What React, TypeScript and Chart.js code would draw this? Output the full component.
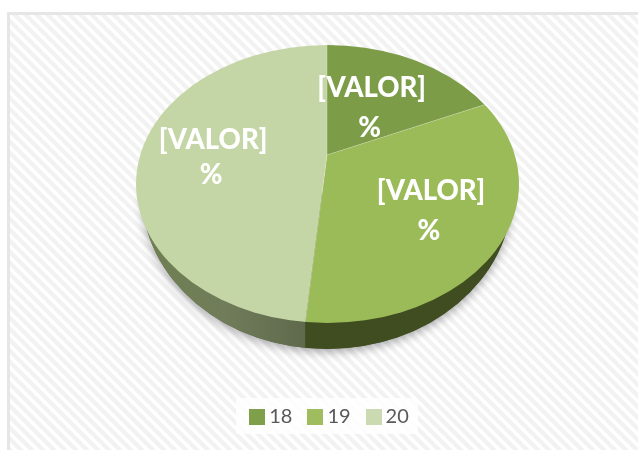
import React, { useEffect, useRef } from "react";
import { Chart, registerables } from "chart.js";

Chart.register(...registerables);

const categories = ["18", "19", "20"];
const sliceValues = [18.4, 33.1, 48.5];
const sliceColors = ["#7c9c47", "#9bbb59", "#c4d6a5"];
const swatchColors = ["#7f9f4a", "#9fbd5e", "#cbdab0"];
const valueLabel = "[VALOR]";
const percentLabel = "%";

// top face of the tilted pie, and the apex where the slices meet (perspective)
const FACE = { cx: 327.5, cy: 184, rx: 191.5, ry: 139 };
const APEX = { x: 327, y: 155 };
const TILT = FACE.ry / FACE.rx;
const WALL = { cx: 327, cy: 194, rx: 185, ry: 155 };
const LABEL_REACH = [80, 127, 115];
const LABEL_DROP = [2, 2, 7];
const LINE_GAP = [40, 40, 35];

function hatch(ctx: CanvasRenderingContext2D) {
  const p = 11;
  const tile = document.createElement("canvas");
  tile.width = p;
  tile.height = p;
  const t = tile.getContext("2d")!;
  t.fillStyle = "#ffffff";
  t.fillRect(0, 0, p, p);
  t.strokeStyle = "#f2f2f2";
  t.lineWidth = 4.2;
  for (const off of [-p, 0, p]) {
    t.beginPath();
    t.moveTo(off - 2, -2);
    t.lineTo(off + p + 2, p + 2);
    t.stroke();
  }
  return ctx.createPattern(tile, "repeat")!;
}

function swatch(color: string) {
  const c = document.createElement("canvas");
  c.width = 16;
  c.height = 16;
  const x = c.getContext("2d")!;
  x.fillStyle = color;
  x.fillRect(0, 0, 16, 16);
  return c;
}

// where a slice edge at this chart angle meets the top-face ellipse
function rayToFace(angle: number) {
  const dx = Math.cos(angle);
  const dy = Math.sin(angle) * TILT;
  const ox = APEX.x - FACE.cx;
  const oy = APEX.y - FACE.cy;
  const a = (dx * dx) / FACE.rx ** 2 + (dy * dy) / FACE.ry ** 2;
  const b = 2 * ((ox * dx) / FACE.rx ** 2 + (oy * dy) / FACE.ry ** 2);
  const c = (ox * ox) / FACE.rx ** 2 + (oy * oy) / FACE.ry ** 2 - 1;
  const t = (-b + Math.sqrt(b * b - 4 * a * c)) / (2 * a);
  return { x: APEX.x + dx * t, y: APEX.y + dy * t };
}

const backdrop = {
  id: "backdrop",
  beforeDraw(chart: any) {
    const { ctx, width, height } = chart;
    ctx.save();
    ctx.fillStyle = "#ffffff";
    ctx.fillRect(0, 0, width, height);
    ctx.fillStyle = hatch(ctx);
    ctx.fillRect(10, 15, width - 10, height - 15);
    ctx.fillStyle = "#e6e6e6";
    ctx.fillRect(7, 12, width - 7, 3);
    ctx.fillRect(7, 12, 3, height - 12);
    ctx.fillStyle = "rgba(255,255,255,0.8)";
    ctx.fillRect(236, 398, 182, 36);
    ctx.restore();
  },
};

const tiltedPie = {
  id: "tiltedPie",
  beforeDatasetsDraw(chart: any) {
    const { ctx } = chart;
    const arcs = chart.getDatasetMeta(0).data;
    const seam = rayToFace(arcs[1].endAngle);

    // front wall of the pie
    const wallPath = () => {
      ctx.beginPath();
      ctx.ellipse(WALL.cx, WALL.cy, WALL.rx, WALL.ry, 0, 0, Math.PI);
      ctx.closePath();
    };
    ctx.save();
    ctx.shadowColor = "rgba(40,40,50,0.4)";
    ctx.shadowBlur = 10;
    ctx.shadowOffsetY = 3;
    ctx.fillStyle = "#55633a";
    wallPath();
    ctx.fill();
    ctx.restore();

    ctx.save();
    wallPath();
    ctx.clip();
    const g = ctx.createLinearGradient(WALL.cx - WALL.rx, 0, seam.x, 0);
    g.addColorStop(0, "#708050");
    g.addColorStop(0.5, "#707c5a");
    g.addColorStop(1, "#5e6a4b");
    ctx.fillStyle = g;
    ctx.fillRect(WALL.cx - WALL.rx, WALL.cy, seam.x - (WALL.cx - WALL.rx), WALL.ry + 1);
    ctx.fillStyle = "#3f4d20";
    ctx.fillRect(seam.x, WALL.cy, WALL.cx + WALL.rx - seam.x, WALL.ry + 1);
    ctx.restore();

    // top face: the library's arcs, squashed and cut to the ellipse
    ctx.save();
    ctx.beginPath();
    ctx.ellipse(FACE.cx, FACE.cy, FACE.rx, FACE.ry, 0, 0, Math.PI * 2);
    ctx.clip();
    ctx.translate(APEX.x, APEX.y);
    ctx.scale(1, TILT);
    ctx.translate(-arcs[0].x, -arcs[0].y);
  },
  afterDatasetsDraw(chart: any) {
    const { ctx } = chart;
    ctx.restore();
    const arcs = chart.getDatasetMeta(0).data;
    ctx.save();
    ctx.fillStyle = "#ffffff";
    ctx.font = "900 27.5px Lato";
    ctx.textAlign = "center";
    ctx.textBaseline = "middle";
    arcs.forEach((arc: any, i: number) => {
      const mid = (arc.startAngle + arc.endAngle) / 2;
      const x = APEX.x + Math.cos(mid) * LABEL_REACH[i];
      const y = APEX.y + Math.sin(mid) * LABEL_REACH[i] * TILT + LABEL_DROP[i];
      ctx.fillText(valueLabel, x + 1, y - LINE_GAP[i] / 2);
      ctx.fillText(percentLabel, x - 1, y + LINE_GAP[i] / 2);
    });
    ctx.restore();
  },
};

export default function App() {
  const ref = useRef<HTMLCanvasElement>(null);
  useEffect(() => {
    const chart = new Chart(ref.current!, {
      type: "pie",
      data: {
        labels: categories,
        datasets: [
          {
            data: sliceValues,
            backgroundColor: sliceColors,
            borderColor: "rgba(255,255,255,0.2)",
            borderWidth: 1,
            clip: false,
          } as any,
        ],
      },
      options: {
        responsive: false,
        animation: false,
        radius: "500%",
        layout: { padding: { left: 26, right: 0, top: 0, bottom: 13 } },
        plugins: {
          tooltip: { enabled: false },
          legend: {
            position: "bottom",
            labels: {
              color: "#595959",
              font: { family: "Lato", size: 20 },
              usePointStyle: true,
              pointStyleWidth: 4,
              boxHeight: 16,
              padding: 21,
              generateLabels: () =>
                categories.map((text, i) => ({
                  text,
                  fontColor: "#595959",
                  fillStyle: swatchColors[i],
                  strokeStyle: swatchColors[i],
                  lineWidth: 0,
                  pointStyle: swatch(swatchColors[i]),
                  hidden: false,
                  index: i,
                })),
            },
          },
        },
      } as any,
      plugins: [backdrop, tiltedPie],
    });
    return () => chart.destroy();
  }, []);
  return (
    <div style={{ position: "absolute", left: 0, top: 0, width: 638, height: 450 }}>
      <canvas ref={ref} width={638} height={450} style={{ display: "block", filter: "blur(0.5px)" }} />
    </div>
  );
}
